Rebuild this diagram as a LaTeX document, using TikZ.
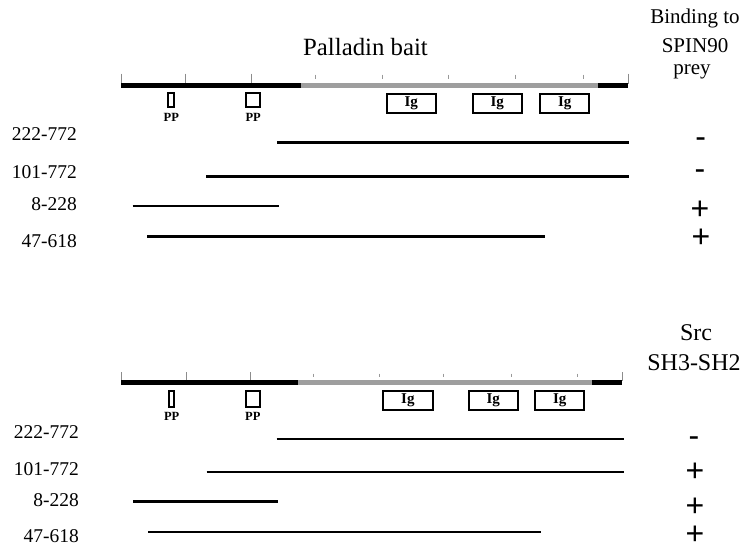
\documentclass[tikz,border=0pt]{standalone}
\usepackage{fontspec}
\setmainfont{Liberation Serif}
\newfontfamily\signfont{Liberation Sans}
\begin{document}
\begin{tikzpicture}[x=1pt,y=-1pt,
  lbl/.style={font=\fontsize{19.5}{22}\selectfont, anchor=base east, inner sep=0pt},
  sgn/.style={font=\signfont\fontsize{32}{34}\selectfont, anchor=base, inner sep=0pt},
  hdr/.style={font=\fontsize{21}{24}\selectfont, anchor=base, inner sep=0pt},
  hdrb/.style={font=\fontsize{24}{28}\selectfont, anchor=base, inner sep=0pt},
  ttl/.style={font=\fontsize{24.8}{28}\selectfont, anchor=base, inner sep=0pt},
  ppbox/.style={draw, line width=2pt, inner sep=0pt, minimum height=13.5},
  pplbl/.style={font=\bfseries\fontsize{12.5}{14}\selectfont, anchor=base, inner sep=0pt},
  igbox/.style={draw, line width=2pt, inner sep=0pt, minimum width=49.3, minimum height=19.4,
    font=\bfseries\fontsize{15}{17}\selectfont},
  rng/.style={line width=2.7pt},
  blk/.style={line width=4.6pt, black},
  gry/.style={line width=4.6pt, black!38},
  ltick/.style={line width=0.8pt, black!45},
  stick/.style={line width=0.8pt, black!40}]
\useasboundingbox[fill=white] (0,0) rectangle (752,552);

% ---------- top panel ----------
\node[ttl] (title) at (365.5,55) {Palladin bait};
\node[hdr] (h1) at (695,23) {Binding to};
\node[hdr] (h2) at (695,52) {SPIN90};
\node[hdr] (h3) at (692,74) {prey};

\foreach \x in {121,185.4,251.5,628} \draw[ltick] (\x,73.6) -- (\x,84);
\foreach \x in {315,382,448,515,583} \draw[stick] (\x,74.7) -- (\x,78.7);
\coordinate (ta) at (121,85.4);
\coordinate (tb) at (300.7,85.4);
\coordinate (tc) at (598,85.4);
\coordinate (td) at (628,85.4);
\draw[blk] (ta) -- (tb);
\draw[gry] (tb) -- (tc);
\draw[blk] (tc) -- (td);

\node[ppbox, minimum width=5.8] (tpp1) at (171.3,99.9) {};
\node[ppbox, minimum width=13.6] (tpp2) at (253.2,99.9) {};
\node[pplbl] (tpl1) at (171.3,121) {PP};
\node[pplbl] (tpl2) at (253.2,121) {PP};
\node[igbox] (tig1) at (411.3,103.5) {Ig};
\node[igbox] (tig2) at (497.3,103.5) {Ig};
\node[igbox] (tig3) at (564.7,103.5) {Ig};

\node[lbl] (tl1) at (77,140.7) {222-772};
\node[lbl] (tl2) at (77,178) {101-772};
\node[lbl] (tl3) at (77,210.7) {8-228};
\node[lbl] (tl4) at (77,247.7) {47-618};

\coordinate (t1a) at (277,142.5);   \coordinate (t1b) at (629,142.5);
\coordinate (t2a) at (206,176.7);   \coordinate (t2b) at (629,176.7);
\coordinate (t3a) at (132.5,206);   \coordinate (t3b) at (279,206);
\coordinate (t4a) at (147,236.7);   \coordinate (t4b) at (545,236.7);
\draw[rng] (t1a) -- (t1b);
\draw[rng] (t2a) -- (t2b);
\draw[rng] (t3a) -- (t3b);
\draw[rng] (t4a) -- (t4b);

\node[sgn] (ts1) at (700.7,147) {-};
\node[sgn] (ts2) at (700,179) {-};
\node[sgn] (ts3) at (700,219.2) {+};
\node[sgn] (ts4) at (701,247.9) {+};

% ---------- bottom panel ----------
\node[hdrb] (b1) at (696,340) {Src};
\node[hdrb] (b2) at (694,370) {SH3-SH2};

\foreach \x in {121,186.2,250.4,622} \draw[ltick] (\x,372) -- (\x,381);
\foreach \x in {313.6,379.4,443.6,511.2,577} \draw[stick] (\x,373.6) -- (\x,377.4);
\coordinate (ba) at (121,382.3);
\coordinate (bb) at (298.4,382.3);
\coordinate (bc) at (592.3,382.3);
\coordinate (bd) at (622,382.3);
\draw[blk] (ba) -- (bb);
\draw[gry] (bb) -- (bc);
\draw[blk] (bc) -- (bd);

\node[ppbox, minimum width=5, minimum height=16] (bpp1) at (171.7,398.5) {};
\node[ppbox, minimum width=13.5, minimum height=16] (bpp2) at (252.75,398.5) {};
\node[pplbl] (bpl1) at (171.7,420) {PP};
\node[pplbl] (bpl2) at (252.75,420) {PP};
\node[igbox] (big1) at (407.9,400.6) {Ig};
\node[igbox] (big2) at (493.2,400.6) {Ig};
\node[igbox] (big3) at (559.7,400.6) {Ig};

\node[lbl] (bl1) at (79,438) {222-772};
\node[lbl] (bl2) at (79,475) {101-772};
\node[lbl] (bl3) at (79,506.7) {8-228};
\node[lbl] (bl4) at (79,542) {47-618};

\coordinate (b1a) at (276.7,439);   \coordinate (b1b) at (624,439);
\coordinate (b2a) at (206.7,472);   \coordinate (b2b) at (624,472);
\coordinate (b3a) at (133.3,501.7); \coordinate (b3b) at (278.3,501.7);
\coordinate (b4a) at (148.3,532);   \coordinate (b4b) at (541,532);
\draw[rng] (b1a) -- (b1b);
\draw[rng] (b2a) -- (b2b);
\draw[rng] (b3a) -- (b3b);
\draw[rng] (b4a) -- (b4b);

\node[sgn] (bs1) at (694,446) {-};
\node[sgn] (bs2) at (695,481.2) {+};
\node[sgn] (bs3) at (695,516.2) {+};
\node[sgn] (bs4) at (695,544.2) {+};
\end{tikzpicture}
\end{document}
